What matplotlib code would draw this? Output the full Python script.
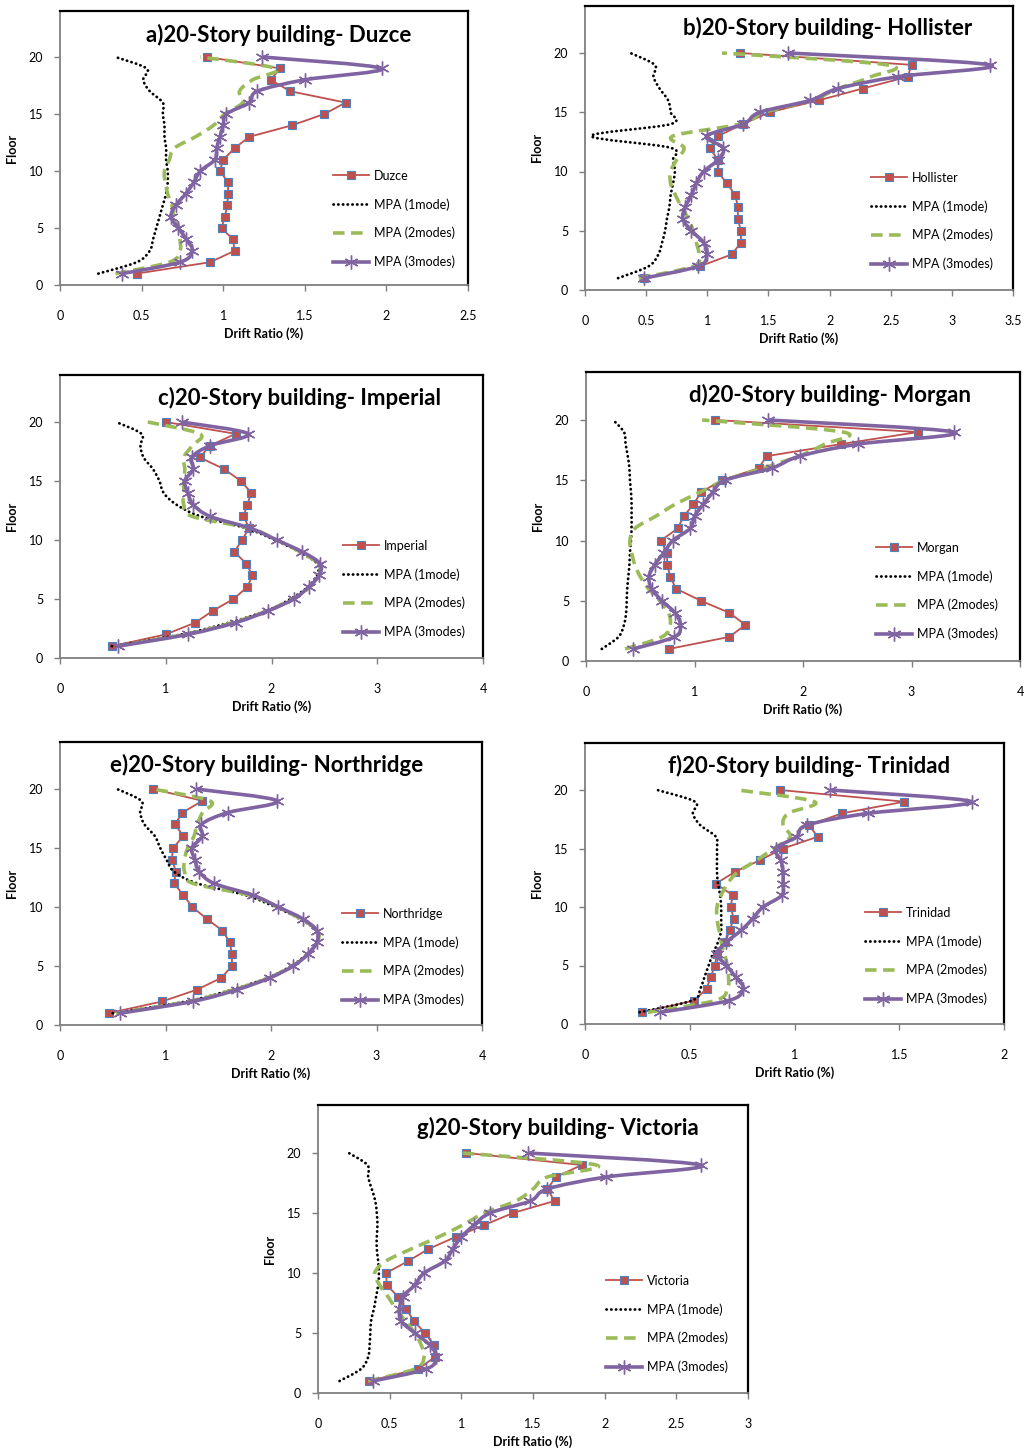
import numpy as np
import matplotlib.pyplot as plt
from matplotlib.path import Path
from matplotlib.patches import PathPatch
from matplotlib.lines import Line2D

plt.rcParams['font.family'] = ['Lato', 'DejaVu Sans']

floors = np.arange(1, 21)

# drift ratio (%) per floor, floor 1 .. 20
duzce = [0.47, 0.92, 1.07, 1.06, 0.99, 1.01, 1.025, 1.03, 1.03, 0.98,
         1.00, 1.07, 1.16, 1.42, 1.62, 1.75, 1.41, 1.29, 1.35, 0.90]
duzce_1mode = [0.235, 0.47, 0.55, 0.57, 0.59, 0.61, 0.63, 0.65, 0.66, 0.66,
               0.65, 0.65, 0.64, 0.64, 0.63, 0.63, 0.55, 0.51, 0.53, 0.34]
duzce_2modes = [0.34, 0.67, 0.735, 0.735, 0.73, 0.70, 0.685, 0.66, 0.645, 0.64,
                0.67, 0.70, 0.83, 0.94, 1.01, 1.12, 1.10, 1.18, 1.32, 0.86]
duzce_3modes = [0.38, 0.735, 0.81, 0.775, 0.725, 0.68, 0.71, 0.77, 0.82, 0.86,
                0.95, 0.96, 0.98, 1.00, 1.02, 1.16, 1.21, 1.50, 1.97, 1.24]

hollister = [0.485, 0.94, 1.20, 1.275, 1.275, 1.25, 1.25, 1.23, 1.16, 1.085,
             1.085, 1.02, 1.09, 1.29, 1.51, 1.91, 2.27, 2.64, 2.67, 1.27]
hollister_1mode = [0.27, 0.52, 0.60, 0.63, 0.655, 0.67, 0.69, 0.70, 0.72, 0.735,
                   0.72, 0.70, 0.05, 0.70, 0.70, 0.68, 0.61, 0.56, 0.57, 0.37]
hollister_2modes = [0.44, 0.885, 0.93, 0.91, 0.885, 0.845, 0.79, 0.74, 0.70, 0.70,
                    0.75, 0.81, 0.72, 1.27, 1.47, 1.85, 2.07, 2.34, 2.47, 1.12]
hollister_3modes = [0.485, 0.925, 0.995, 0.97, 0.87, 0.80, 0.82, 0.87, 0.91, 0.97,
                    1.09, 1.13, 0.995, 1.295, 1.43, 1.84, 2.07, 2.56, 3.31, 1.66]

imperial = [0.49, 1.00, 1.28, 1.445, 1.64, 1.77, 1.82, 1.76, 1.65, 1.72,
            1.79, 1.735, 1.77, 1.81, 1.71, 1.555, 1.32, 1.42, 1.66, 1.00]
imperial_1mode = [0.49, 1.15, 1.60, 1.95, 2.18, 2.34, 2.43, 2.43, 2.26, 2.03,
                  1.76, 1.33, 1.10, 0.98, 0.94, 0.88, 0.79, 0.76, 0.77, 0.53]
imperial_2modes = [0.53, 1.18, 1.63, 1.96, 2.20, 2.36, 2.45, 2.44, 2.27, 2.05,
                   1.79, 1.25, 1.17, 1.17, 1.17, 1.18, 1.17, 1.25, 1.32, 0.83]
imperial_3modes = [0.55, 1.21, 1.66, 1.97, 2.21, 2.35, 2.45, 2.46, 2.29, 2.05,
                   1.80, 1.42, 1.26, 1.21, 1.18, 1.26, 1.245, 1.42, 1.78, 1.15]

morgan = [0.765, 1.32, 1.47, 1.32, 1.06, 0.83, 0.775, 0.75, 0.745, 0.69,
          0.845, 0.90, 0.99, 1.06, 1.25, 1.59, 1.665, 2.35, 3.06, 1.19]
morgan_1mode = [0.145, 0.30, 0.35, 0.37, 0.375, 0.38, 0.39, 0.40, 0.405, 0.415,
                0.42, 0.42, 0.42, 0.415, 0.405, 0.40, 0.385, 0.365, 0.35, 0.25]
morgan_2modes = [0.36, 0.70, 0.775, 0.76, 0.68, 0.575, 0.50, 0.45, 0.42, 0.405,
                 0.45, 0.64, 0.82, 1.05, 1.28, 1.63, 1.96, 2.20, 2.37, 1.07]
morgan_3modes = [0.435, 0.815, 0.87, 0.82, 0.70, 0.605, 0.58, 0.635, 0.72, 0.80,
                 0.96, 1.00, 1.08, 1.17, 1.28, 1.71, 1.97, 2.51, 3.39, 1.68]

northridge = [0.46, 0.97, 1.30, 1.53, 1.63, 1.63, 1.61, 1.54, 1.39, 1.255,
              1.17, 1.08, 1.10, 1.06, 1.07, 1.17, 1.09, 1.16, 1.35, 0.88]
northridge_1mode = [0.50, 1.20, 1.63, 1.97, 2.19, 2.34, 2.43, 2.43, 2.27, 2.04,
                    1.76, 1.30, 1.08, 1.01, 0.95, 0.90, 0.80, 0.76, 0.77, 0.54]
northridge_2modes = [0.53, 1.22, 1.65, 1.98, 2.20, 2.35, 2.44, 2.44, 2.28, 2.06,
                     1.80, 1.26, 1.18, 1.18, 1.21, 1.27, 1.30, 1.35, 1.42, 0.88]
northridge_3modes = [0.57, 1.26, 1.68, 1.99, 2.21, 2.35, 2.435, 2.435, 2.30, 2.07,
                     1.83, 1.46, 1.32, 1.28, 1.25, 1.35, 1.34, 1.59, 2.06, 1.29]

trinidad = [0.27, 0.52, 0.58, 0.60, 0.62, 0.63, 0.67, 0.69, 0.71, 0.695,
            0.705, 0.625, 0.715, 0.835, 0.945, 1.11, 1.07, 1.225, 1.525, 0.93]
trinidad_1mode = [0.26, 0.51, 0.55, 0.57, 0.59, 0.61, 0.635, 0.65, 0.65, 0.65,
                  0.645, 0.635, 0.63, 0.63, 0.63, 0.625, 0.55, 0.515, 0.525, 0.345]
trinidad_2modes = [0.30, 0.62, 0.68, 0.685, 0.68, 0.665, 0.65, 0.64, 0.63, 0.63,
                   0.65, 0.68, 0.73, 0.82, 0.90, 0.98, 0.945, 0.97, 1.095, 0.73]
trinidad_3modes = [0.36, 0.685, 0.755, 0.72, 0.675, 0.63, 0.675, 0.745, 0.80, 0.85,
                   0.94, 0.945, 0.945, 0.935, 0.91, 1.01, 1.06, 1.35, 1.845, 1.17]

victoria = [0.355, 0.70, 0.815, 0.81, 0.745, 0.67, 0.615, 0.56, 0.48, 0.475,
            0.63, 0.77, 0.96, 1.16, 1.36, 1.65, 1.60, 1.66, 1.84, 1.035]
victoria_1mode = [0.15, 0.30, 0.35, 0.36, 0.365, 0.37, 0.39, 0.405, 0.42, 0.425,
                  0.42, 0.41, 0.41, 0.415, 0.41, 0.40, 0.375, 0.35, 0.345, 0.215]
victoria_2modes = [0.35, 0.675, 0.74, 0.72, 0.675, 0.61, 0.545, 0.49, 0.43, 0.395,
                   0.475, 0.65, 0.84, 1.01, 1.16, 1.38, 1.50, 1.60, 1.94, 1.00]
victoria_3modes = [0.385, 0.755, 0.825, 0.78, 0.675, 0.58, 0.57, 0.59, 0.675, 0.74,
                   0.885, 0.94, 1.00, 1.09, 1.20, 1.48, 1.60, 2.01, 2.67, 1.465]

RED, BLUE, GREEN, PURPLE = '#C0504D', '#4F81BD', '#9BBB59', '#8064A2'
W, H = 1027, 1454


def smooth_path(x, y):
    # Catmull-Rom style bezier through the points (like Excel "smoothed line")
    pts = np.column_stack([x, y])
    n = len(pts)
    verts = [pts[0]]
    codes = [Path.MOVETO]
    for i in range(n - 1):
        p0 = pts[max(i - 1, 0)]
        p1 = pts[i]
        p2 = pts[i + 1]
        p3 = pts[min(i + 2, n - 1)]
        verts += [p1 + (p2 - p0) / 6, p2 - (p3 - p1) / 6, p2]
        codes += [Path.CURVE4] * 3
    return Path(verts, codes)


def px_rect(x0, x1, y_axis, y20):
    top = y_axis - (y_axis - y20) * 1.2
    return [x0 / W, 1 - y_axis / H, (x1 - x0) / W, (y_axis - top) / H]


# letter, record name, data, xmax, xstep, (x0, x1, y_axis, y20), title xy, legend xy
panels = [
    ('a', 'Duzce', duzce, duzce_1mode, duzce_2modes, duzce_3modes, 2.5, 0.5,
     (60, 468, 285, 57), (279, 35), (333, 219)),
    ('b', 'Hollister', hollister, hollister_1mode, hollister_2modes, hollister_3modes, 3.5, 0.5,
     (585, 1013, 290, 53), (828, 28), (871, 221)),
    ('c', 'Imperial', imperial, imperial_1mode, imperial_2modes, imperial_3modes, 4, 1,
     (60, 483, 658, 422), (299, 398), (343, 589)),
    ('d', 'Morgan', morgan, morgan_1mode, morgan_2modes, morgan_3modes, 4, 1,
     (586, 1020, 661, 420), (830, 395), (876, 591)),
    ('e', 'Northridge', northridge, northridge_1mode, northridge_2modes, northridge_3modes, 4, 1,
     (60, 482, 1025, 789), (267, 765), (342, 957)),
    ('f', 'Trinidad', trinidad, trinidad_1mode, trinidad_2modes, trinidad_3modes, 2, 0.5,
     (585, 1004, 1024, 790), (809, 766), (865, 956)),
    ('g', 'Victoria', victoria, victoria_1mode, victoria_2modes, victoria_3modes, 3, 0.5,
     (318, 748, 1393, 1153), (558, 1128), (606, 1324)),
]

fig = plt.figure(figsize=(W / 100, H / 100), dpi=100)

for letter, name, rec, m1, m2, m3, xmax, xstep, box, title_xy, leg_xy in panels:
    ax = fig.add_axes(px_rect(*box))
    ax.set_xlim(0, xmax)
    ax.set_ylim(0, 24)

    ax.plot(rec, floors, color=RED, lw=1.3, marker='s', ms=6, mfc=RED, mec=BLUE, mew=0.8, zorder=3)
    ax.add_patch(PathPatch(smooth_path(m1, floors), fill=False, ec='black', lw=2.0,
                           ls=(0, (0.1, 1.6)), capstyle='round', zorder=4))
    ax.add_patch(PathPatch(smooth_path(m2, floors), fill=False, ec=GREEN, lw=2.6,
                           ls=(0, (3.2, 1.8)), zorder=5))
    ax.add_patch(PathPatch(smooth_path(m3, floors), fill=False, ec=PURPLE, lw=2.6,
                           zorder=6))
    ax.plot(m3, floors, ls='none', marker=(6, 2, 0), ms=10, mec=PURPLE, mew=1.0, zorder=7)

    ax.set_xticks(np.arange(0, xmax + 1e-9, xstep))
    ax.set_xticklabels(['{:g}'.format(v) for v in np.arange(0, xmax + 1e-9, xstep)])
    ax.set_yticks([0, 5, 10, 15, 20])
    ax.tick_params(axis='both', direction='out', length=4, width=1, color='#7f7f7f',
                   labelsize=9, pad=8)
    ax.tick_params(axis='x', pad=14)
    for side in ('left', 'bottom'):
        ax.spines[side].set_color('#7f7f7f')
        ax.spines[side].set_linewidth(1.3)
    for side in ('top', 'right'):
        ax.spines[side].set_color('black')
        ax.spines[side].set_linewidth(1.6)

    ax.set_xlabel('Drift Ratio (%)', fontsize=9, fontweight='bold', labelpad=4)
    ax.set_ylabel('Floor', fontsize=9, fontweight='bold', labelpad=8)

    fig.text(title_xy[0] / W, 1 - title_xy[1] / H, letter + ')20-Story building- ' + name,
             fontsize=16, fontweight='bold', ha='center', va='center')

    handles = [
        Line2D([], [], color=RED, lw=1.3, marker='s', ms=6, mfc=RED, mec=BLUE, mew=0.8),
        Line2D([], [], color='black', lw=2.0, ls=(0, (0.1, 1.6)), dash_capstyle='round'),
        Line2D([], [], color=GREEN, lw=2.6, ls=(0, (3.2, 1.8))),
        Line2D([], [], color=PURPLE, lw=2.6, marker=(6, 2, 0), ms=10, mew=1.0),
    ]
    labels = [name, 'MPA (1mode)', 'MPA (2modes)', 'MPA (3modes)']
    fig.legend(handles, labels, loc='center left',
               bbox_to_anchor=(leg_xy[0] / W, 1 - leg_xy[1] / H),
               frameon=False, fontsize=9, handlelength=2.9, handletextpad=0.35,
               labelspacing=1.3, borderpad=0, borderaxespad=0)

fig.savefig('out.png', dpi=100)
